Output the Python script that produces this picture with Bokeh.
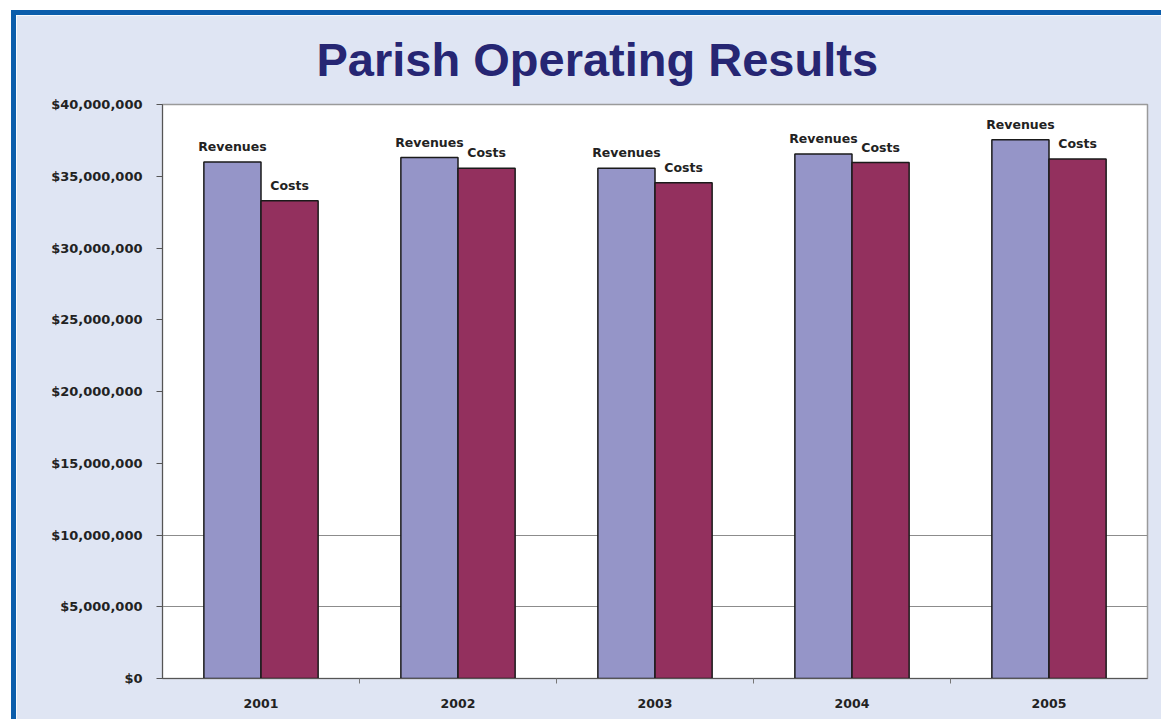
import numpy as np
from bokeh.plotting import figure
from bokeh.models import ColumnDataSource, Range1d, FixedTicker, NumeralTickFormatter
from bokeh.core.properties import value
from bokeh.embed import file_html
from bokeh.resources import INLINE

# ---- data ----
years = ["2001", "2002", "2003", "2004", "2005"]
revenues = [36.0e6, 36.3e6, 35.55e6, 36.55e6, 37.55e6]
costs = [33.3e6, 35.55e6, 34.55e6, 35.95e6, 36.2e6]
rev_label = "Revenues"
cost_label = "Costs"
title_text = "Parish Operating Results"
y_ticks = [0, 5e6, 10e6, 15e6, 20e6, 25e6, 30e6, 35e6, 40e6]

BG = "#DFE5F3"
BLUE = "#0B5DAB"
REV_C = "#9595C8"
COST_C = "#93305E"
FONT = "DejaVu Sans"

idx = np.arange(len(years))
centers = idx + 0.5
bw = 0.29

src = ColumnDataSource(dict(
    xr=centers - bw / 2, xc=centers + bw / 2,
    rev=revenues, cost=costs,
    rl=[rev_label] * len(years), cl=[cost_label] * len(years),
))

p = figure(width=1150, height=709, output_backend="svg", toolbar_location=None,
           x_range=Range1d(0, len(years)), y_range=Range1d(0, 40e6),
           min_border_left=146, min_border_right=19, min_border_top=89, min_border_bottom=46,
           margin=(10, 0, 0, 11),
           styles={"border-left": f"5px solid {BLUE}", "border-top": f"5px solid {BLUE}"})

p.border_fill_color = BG
p.background_fill_color = "white"
p.outline_line_color = "#9a9a9a"
p.outline_line_width = 1.5

p.title.text = title_text
p.title.text_font = "Liberation Sans"
p.title.text_font_size = "47px"
p.title.text_font_style = "bold"
p.title.text_color = "#262673"
p.title.align = "left"
p.title.offset = 154
p.title.vertical_align = "top"
p.title.standoff = 34

p.vbar(x="xr", top="rev", width=bw, source=src, fill_color=REV_C,
       line_color="#1a1a1a", line_width=1.5)
p.vbar(x="xc", top="cost", width=bw, source=src, fill_color=COST_C,
       line_color="#1a1a1a", line_width=1.5)

p.text(x="xr", y="rev", text="rl", source=src, text_align="center", text_baseline="bottom",
       y_offset=-8, text_font=value(FONT), text_font_size="12.5px", text_font_style="bold",
       text_color="#222222")
p.text(x="xc", y="cost", text="cl", source=src, text_align="center", text_baseline="bottom",
       y_offset=-8, text_font=value(FONT), text_font_size="12.5px", text_font_style="bold",
       text_color="#222222")

# y axis
ya = p.yaxis[0]
ya.ticker = FixedTicker(ticks=y_ticks)
ya.formatter = NumeralTickFormatter(format="$0,0")
ya.major_label_text_font = FONT
ya.major_label_text_font_size = "13px"
ya.major_label_text_font_style = "bold"
ya.major_label_text_color = "#222222"
ya.major_tick_out = 6
ya.major_tick_in = 0
ya.minor_tick_out = 0
ya.minor_tick_in = 0
ya.major_label_standoff = 14
ya.axis_line_color = "#555555"
ya.major_tick_line_color = "#555555"

# x axis
xa = p.xaxis[0]
xa.ticker = FixedTicker(ticks=list(centers), minor_ticks=list(idx[1:]))
xa.major_label_overrides = {float(c): y for c, y in zip(centers, years)}
xa.major_label_text_font = FONT
xa.major_label_text_font_size = "12.5px"
xa.major_label_text_font_style = "bold"
xa.major_label_text_color = "#222222"
xa.major_tick_out = 0
xa.major_tick_in = 0
xa.minor_tick_out = 5
xa.minor_tick_in = 0
xa.minor_tick_line_color = "#777777"
xa.major_label_standoff = 15
xa.axis_line_color = "#555555"

p.xgrid.grid_line_color = None
p.ygrid.ticker = FixedTicker(ticks=[5e6, 10e6])
p.ygrid.grid_line_color = "#8c8c8c"
p.ygrid.grid_line_width = 1.2

open("out.html", "w").write(file_html(p, INLINE))
